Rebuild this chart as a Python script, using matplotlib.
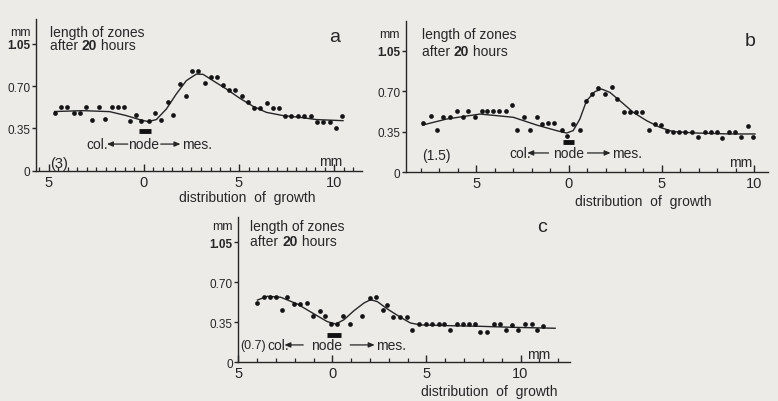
import matplotlib
matplotlib.use("Agg")
import matplotlib.pyplot as plt
from matplotlib.ticker import MultipleLocator

plt.rcParams['font.family'] = ['Liberation Sans', 'DejaVu Sans']

# ---------------- data ----------------
xtick_values = [-5, 0, 5, 10]
xtick_labels = ['5', '0', '5', '10']
ytick_values = [0, 0.35, 0.70, 1.05]
ytick_labels = ['0', '0.35', '0.70', '1.05']

# panel a (3)
a_x = [-4.70, -4.39, -4.04, -3.70, -3.39, -3.07, -2.72, -2.39, -2.04, -1.68, -1.39, -1.07,
       -0.72, -0.40, -0.14, 0.26, 0.60, 0.91, 1.25, 1.53, 1.88, 2.21, 2.54, 2.86, 3.19, 3.51,
       3.84, 4.16, 4.47, 4.81, 5.16, 5.47, 5.81, 6.12, 6.47, 6.79, 7.11, 7.44, 7.75, 8.11,
       8.44, 8.77, 9.09, 9.42, 9.77, 10.09, 10.42]
a_y = [0.475, 0.53, 0.53, 0.475, 0.475, 0.53, 0.42, 0.53, 0.428, 0.53, 0.53, 0.53,
       0.409, 0.464, 0.414, 0.414, 0.475, 0.42, 0.572, 0.464, 0.718, 0.616, 0.829, 0.829, 0.727, 0.773,
       0.773, 0.713, 0.671, 0.671, 0.622, 0.566, 0.517, 0.517, 0.561, 0.517, 0.517, 0.456, 0.456, 0.456,
       0.45, 0.45, 0.406, 0.406, 0.406, 0.354, 0.45]
a_curve_x = [-4.70, -3.21, -1.81, -0.93, -0.23, 0.21, 0.65, 1.18, 1.70, 2.23, 2.75, 3.11,
             3.63, 4.33, 5.04, 5.74, 6.44, 7.32, 8.19, 9.07, 10.47]
a_curve_y = [0.49, 0.497, 0.489, 0.456, 0.423, 0.406, 0.423, 0.511, 0.635, 0.746, 0.80, 0.798,
             0.746, 0.677, 0.60, 0.533, 0.483, 0.456, 0.442, 0.423, 0.414]

# panel b (1.5)
b_x = [-7.90, -7.46, -7.10, -6.82, -6.42, -6.06, -5.74, -5.43, -5.07, -4.71, -4.44, -4.12,
       -3.76, -3.42, -3.06, -2.82, -2.43, -2.10, -1.74, -1.44, -1.15, -0.79, -0.40, -0.13,
       0.20, 0.59, 0.92, 1.26, 1.58, 1.94, 2.30, 2.61, 2.99, 3.29, 3.62, 3.97, 4.33, 4.64,
       4.96, 5.27, 5.63, 5.95, 6.29, 6.65, 6.98, 7.34, 7.66, 8.00, 8.24, 8.65, 8.96, 9.28,
       9.64, 9.95]
b_y = [0.426, 0.483, 0.365, 0.475, 0.475, 0.526, 0.475, 0.526, 0.480, 0.532, 0.532, 0.532,
       0.532, 0.526, 0.578, 0.365, 0.475, 0.365, 0.475, 0.417, 0.423, 0.423, 0.365, 0.316,
       0.417, 0.365, 0.613, 0.679, 0.728, 0.676, 0.739, 0.633, 0.518, 0.518, 0.518, 0.523, 0.365, 0.417,
       0.411, 0.359, 0.351, 0.351, 0.351, 0.351, 0.302, 0.351, 0.351, 0.351, 0.293, 0.351, 0.345, 0.302,
       0.403, 0.302]
b_curve_x = [-7.90, -6.60, -4.80, -3.00, -1.74, -0.67, -0.13, 0.23, 0.59, 0.95, 1.40, 1.76,
             2.21, 2.75, 3.47, 4.19, 4.91, 5.63, 6.89, 8.69, 10.04]
b_curve_y = [0.408, 0.460, 0.503, 0.475, 0.408, 0.36, 0.339, 0.36, 0.46, 0.618, 0.696, 0.719,
             0.69, 0.618, 0.518, 0.446, 0.388, 0.351, 0.339, 0.331, 0.331]

# panel c (0.7)
c_x = [-3.98, -3.62, -3.30, -3.00, -2.69, -2.39, -2.03, -1.71, -1.36, -1.01, -0.65, -0.39,
       -0.09, 0.27, 0.58, 0.94, 1.59, 1.99, 2.30, 2.69, 2.92, 3.23, 3.59, 3.94, 4.24, 4.59,
       4.95, 5.30, 5.65, 5.95, 6.24, 6.63, 6.94, 7.24, 7.56, 7.86, 8.22, 8.57, 8.89, 9.24,
       9.54, 9.89, 10.25, 10.60, 10.90, 11.22]
c_y = [0.519, 0.569, 0.569, 0.569, 0.461, 0.569, 0.510, 0.510, 0.516, 0.403, 0.452, 0.403,
       0.335, 0.335, 0.403, 0.335, 0.403, 0.560, 0.569, 0.461, 0.505, 0.394, 0.394, 0.394, 0.286, 0.335,
       0.335, 0.335, 0.335, 0.335, 0.286, 0.335, 0.335, 0.335, 0.335, 0.268, 0.268, 0.335, 0.335, 0.286,
       0.327, 0.286, 0.335, 0.335, 0.286, 0.321]
c_curve_x = [-3.98, -3.45, -2.74, -1.86, -0.97, -0.27, 0.18, 0.62, 1.15, 1.68, 2.03, 2.39,
             2.92, 3.62, 4.15, 4.68, 6.10, 7.86, 9.63, 11.84]
c_curve_y = [0.545, 0.578, 0.569, 0.51, 0.423, 0.356, 0.335, 0.373, 0.452, 0.519, 0.548, 0.531,
             0.467, 0.394, 0.344, 0.327, 0.321, 0.315, 0.306, 0.298]

# ---------------- layout ----------------
W, H = 778, 402
INK = '#262626'
BG = '#ecebe8'
FS = 10

panels = [
    dict(letter='a', tag='(3)', tag_fs=10.5, px=(36, 362, 171.6, 20), xlim=(-5.68, 11.47), ylim=(0, 1.257),
         minor=0.5, x=a_x, y=a_y, cx=a_curve_x, cy=a_curve_y,
         head=(-4.95, 1.149, 1.04), letter_pos=(10.05, 1.116), tag_pos=(-4.95, 0.064),
         mm_pos=(10.45, 0.083), bar=(-0.26, 0.39, 0.33),
         arrow_y=0.22, col_x=-3.05, a1=(-0.85, -1.95), node_x=0.0, a2=(0.88, 1.92), mes_x=1.98,
         xlabel_pos=(5.42, -0.215)),
    dict(letter='b', tag='(1.5)', tag_fs=10, px=(405.7, 768.3, 173.3, 21.7), xlim=(-8.81, 10.76), ylim=(0, 1.309),
         minor=1.0, x=b_x, y=b_y, cx=b_curve_x, cy=b_curve_y,
         head=(-7.95, 1.194, 1.05), letter_pos=(9.77, 1.137), tag_pos=(-7.95, 0.15),
         mm_pos=(9.9, 0.086), bar=(-0.34, 0.27, 0.265),
         arrow_y=0.167, col_x=-3.2, a1=(-1.1, -2.25), node_x=-0.04, a2=(1.0, 2.25), mes_x=2.3,
         xlabel_pos=(4.02, -0.245)),
    dict(letter='c', tag='(0.7)', tag_fs=9, px=(238.3, 570, 363.3, 218.3), xlim=(-4.95, 12.63), ylim=(0, 1.269),
         minor=1.0, x=c_x, y=c_y, cx=c_curve_x, cy=c_curve_y,
         head=(-4.37, 1.19, 1.064), letter_pos=(11.16, 1.19), tag_pos=(-4.9, 0.152),
         mm_pos=(11.6, 0.073), bar=(-0.27, 0.48, 0.242),
         arrow_y=0.152, col_x=-3.45, a1=(-1.55, -2.55), node_x=-0.33, a2=(0.95, 2.25), mes_x=2.3,
         xlabel_pos=(8.36, -0.25)),
]

fig = plt.figure(figsize=(W / 100, H / 100), dpi=100)
fig.patch.set_facecolor(BG)

for p in panels:
    l, r, y0, top = p['px']
    ax = fig.add_axes([l / W, (H - y0) / H, (r - l) / W, (y0 - top) / H])
    ax.set_facecolor('none')
    ax.set_xlim(*p['xlim'])
    ax.set_ylim(*p['ylim'])
    for s in ('top', 'right'):
        ax.spines[s].set_visible(False)
    for s in ('left', 'bottom'):
        ax.spines[s].set_color(INK)
        ax.spines[s].set_linewidth(1.0)

    ax.set_xticks(xtick_values)
    ax.set_xticklabels(xtick_labels)
    ax.xaxis.set_minor_locator(MultipleLocator(p['minor']))
    ax.tick_params(axis='x', which='major', direction='in', length=5, width=1.0,
                   colors=INK, labelsize=10.5, pad=3)
    ax.tick_params(axis='x', which='minor', direction='in', length=3, width=0.9, colors=INK)
    ax.set_yticks(ytick_values)
    ax.set_yticklabels(ytick_labels)
    ax.tick_params(axis='y', which='major', direction='out', length=3, width=1.0,
                   colors=INK, labelsize=8.5, pad=1)
    for t in ax.get_yticklabels():
        t.set_fontweight('bold' if t.get_text() == '1.05' else 'normal')

    ax.plot(p['cx'], p['cy'], color=INK, lw=1.0, zorder=2)
    ax.plot(p['x'], p['y'], 'o', color='#141414', ms=3.4, mec='none', zorder=3)

    # header texts
    hx, hy1, hy2 = p['head']
    ax.text(hx, hy1, 'length of zones', fontsize=FS, color=INK, ha='left', va='center')
    t1 = ax.text(hx, hy2, 'after ', fontsize=FS, color=INK, ha='left', va='center')
    t2 = ax.annotate('20', xy=(1, 0), xycoords=t1, fontsize=FS, color=INK,
                     fontweight='bold', ha='left', va='bottom')
    ax.annotate(' hours', xy=(1, 0), xycoords=t2, fontsize=FS, color=INK, ha='left', va='bottom')
    ax.annotate('mm', xy=(0, hy1), xycoords=('axes fraction', 'data'), xytext=(-4, 0),
                textcoords='offset points', fontsize=9, color=INK, ha='right', va='center')
    ax.text(*p['letter_pos'], p['letter'], fontsize=14, color=INK, ha='center', va='center')
    ax.text(*p['tag_pos'], p['tag'], fontsize=p['tag_fs'], color=INK, ha='left', va='center')
    ax.text(*p['mm_pos'], 'mm', fontsize=FS, color=INK, ha='right', va='center')

    # node bar
    bx0, bx1, by = p['bar']
    ax.plot([bx0, bx1], [by, by], color='#111111', lw=3.5, solid_capstyle='butt')

    # col. <- node -> mes.
    ay = p['arrow_y']
    ax.text(p['col_x'], ay, 'col.', fontsize=FS, color=INK, ha='left', va='center')
    ax.text(p['node_x'], ay, 'node', fontsize=FS, color=INK, ha='center', va='center')
    ax.text(p['mes_x'], ay, 'mes.', fontsize=FS, color=INK, ha='left', va='center')
    for (xs, xe) in (p['a1'], p['a2']):
        ax.annotate('', xy=(xe, ay), xytext=(xs, ay),
                    arrowprops=dict(arrowstyle='-|>,head_length=0.35,head_width=0.15',
                                    color=INK, lw=0.9, shrinkA=0, shrinkB=0))
    ax.text(*p['xlabel_pos'], 'distribution  of  growth', fontsize=FS, color=INK,
            ha='center', va='center')

fig.savefig('out.png', dpi=100, facecolor=BG)
